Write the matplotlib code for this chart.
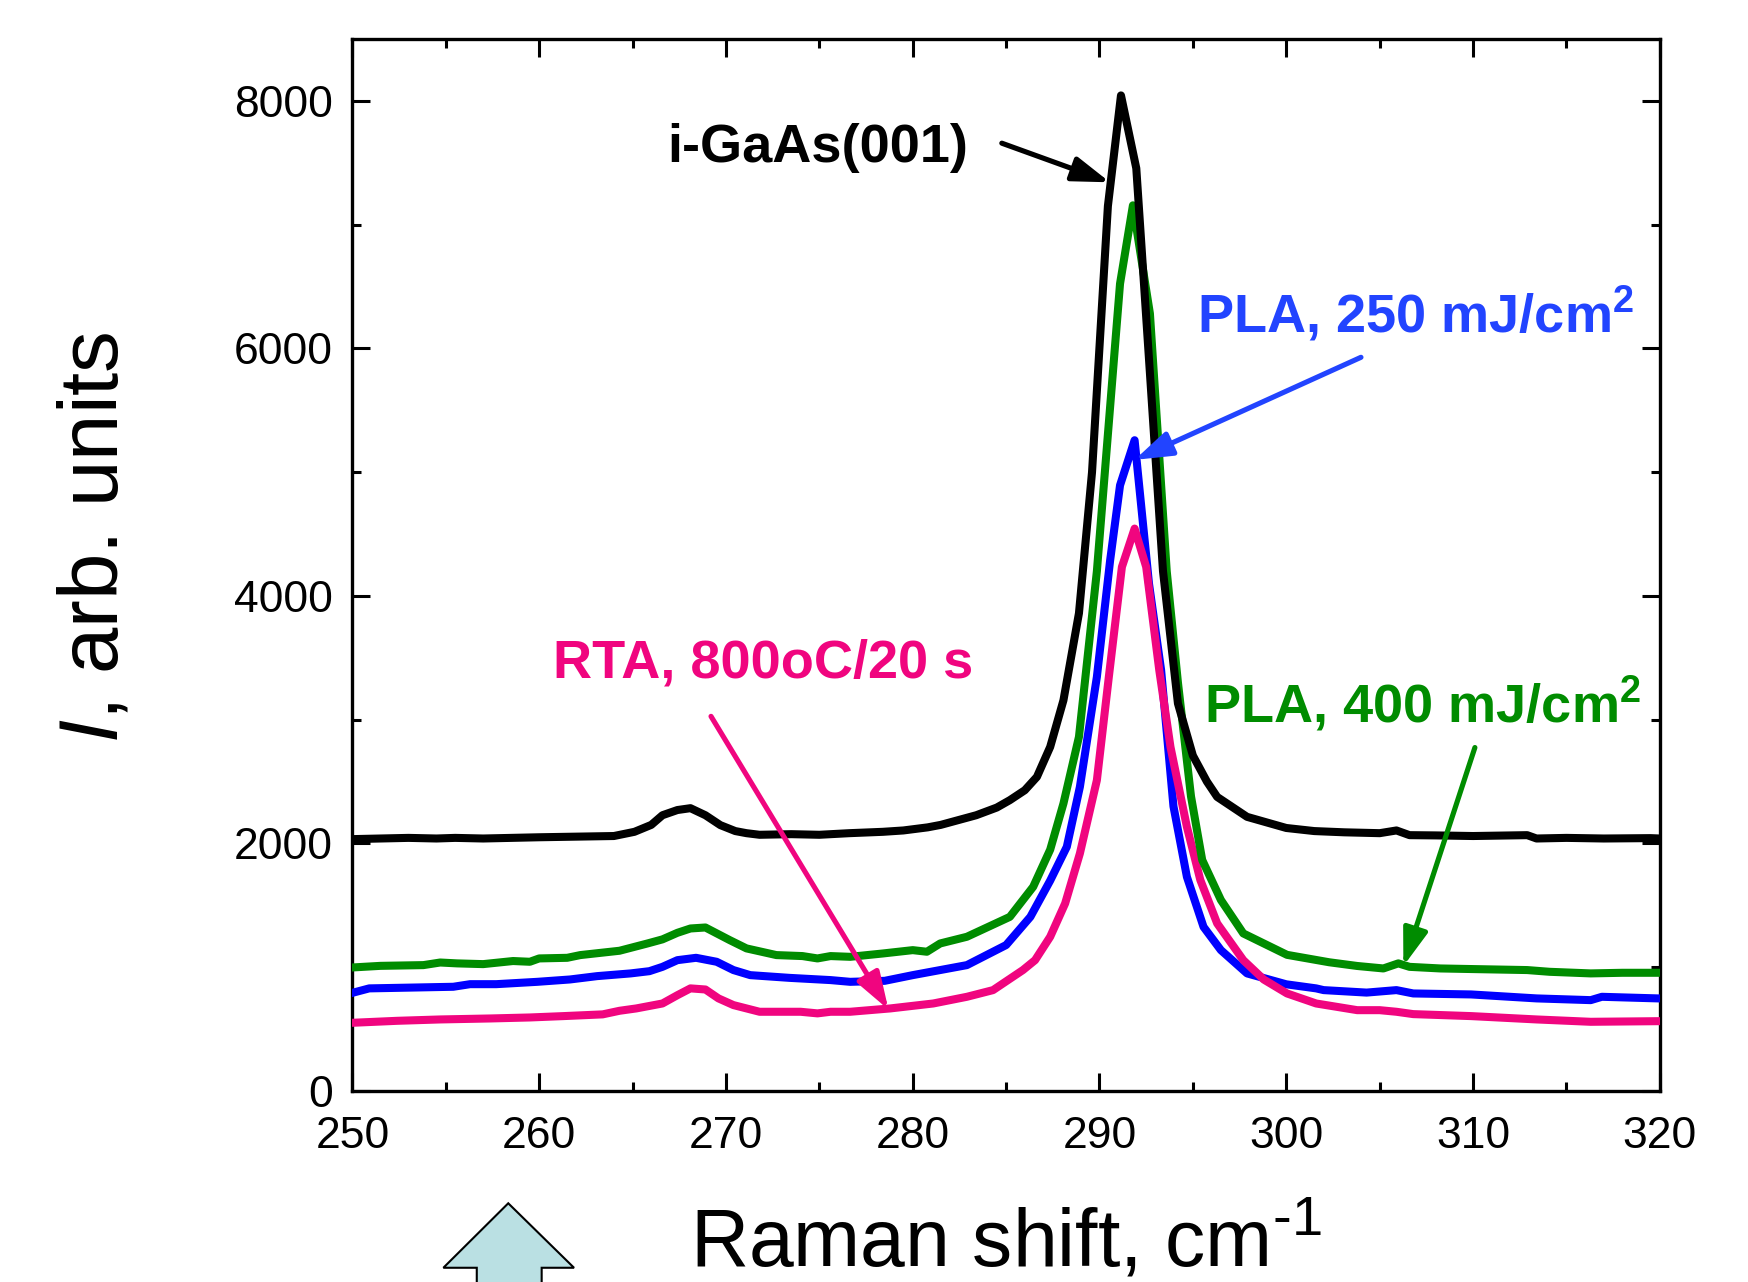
import numpy as np
import matplotlib
matplotlib.use("Agg")
import matplotlib.pyplot as plt
from matplotlib.patches import Polygon
from matplotlib.ticker import MultipleLocator

plt.rcParams['font.family'] = ['Liberation Sans', 'DejaVu Sans']
plt.rcParams['mathtext.fontset'] = 'custom'
plt.rcParams['mathtext.rm'] = 'Liberation Sans'
plt.rcParams['mathtext.it'] = 'Liberation Sans:italic'
plt.rcParams['mathtext.bf'] = 'Liberation Sans:bold'

# --- data (Raman shift in cm-1, intensity in arb. units) ---
x_gaas = [250.0, 251.5, 253.0, 254.5, 255.5, 257.0, 258.5, 260.0, 262.0, 264.0,
          265.1, 266.0, 266.6, 267.4, 268.1, 268.9, 269.7, 270.5, 271.1, 271.8,
          273.5, 275.0, 276.6, 278.4, 279.5, 280.8, 281.5, 283.4, 284.5, 285.2,
          286.0, 286.65, 287.36, 288.07, 288.9, 289.6, 290.45, 291.15, 291.97, 292.7,
          293.4, 294.2, 295.0, 295.75, 296.3, 297.9, 300.0, 301.5, 303.1, 305.0,
          305.9, 306.6, 308.0, 310.0, 312.9, 313.4, 315.0, 317.0, 319.5, 320.0]
y_gaas = [2035, 2040, 2045, 2040, 2045, 2040, 2045, 2050, 2055, 2060,
          2094, 2150, 2228, 2270, 2285, 2228, 2148, 2100, 2083, 2070,
          2075, 2070, 2083, 2094, 2105, 2130, 2150, 2228, 2290, 2350,
          2430, 2538, 2780, 3157, 3860, 5000, 7150, 8044, 7455, 5800,
          4200, 3131, 2710, 2500, 2376, 2215, 2125, 2100, 2090, 2083,
          2105, 2067, 2065, 2060, 2067, 2040, 2045, 2040, 2043, 2040]

x_pla400 = [250.0, 251.5, 253.8, 254.7, 255.6, 257.0, 258.6, 259.5, 260.0, 261.5,
            262.2, 264.3, 265.8, 266.6, 267.4, 268.1, 268.9, 270.2, 271.1, 272.7,
            274.1, 274.9, 275.6, 276.65, 278.4, 280.0, 280.76, 281.47, 282.9, 285.2,
            286.45, 287.36, 288.07, 288.9, 289.86, 291.1, 291.79, 292.7, 293.6, 294.2,
            294.9, 295.5, 296.5, 297.7, 300.04, 302.3, 303.8, 305.2, 306.0, 306.6,
            308.25, 310.0, 312.9, 314.1, 316.3, 318.0, 320.0]
y_pla400 = [998, 1011, 1017, 1038, 1031, 1025, 1050, 1044, 1071, 1076,
            1098, 1133, 1192, 1225, 1278, 1313, 1321, 1219, 1152, 1098,
            1090, 1071, 1090, 1084, 1111, 1138, 1125, 1192, 1246, 1407,
            1650, 1950, 2323, 2861, 4200, 6523, 7156, 6281, 4200, 3300,
            2380, 1866, 1543, 1273, 1100, 1040, 1010, 990, 1031, 1003,
            990, 985, 977, 963, 950, 955, 955]

x_pla250 = [250.0, 250.9, 253.0, 255.4, 256.3, 257.7, 259.9, 261.65, 263.1, 264.9,
            265.9, 266.6, 267.4, 268.4, 269.5, 270.4, 271.3, 273.4, 275.6, 276.65,
            278.5, 280.0, 282.9, 285.0, 286.3, 287.36, 288.25, 288.95, 289.86, 290.57,
            291.1, 291.88, 292.65, 293.3, 293.96, 294.68, 295.57, 296.5, 297.9, 300.0,
            301.6, 302.0, 304.3, 305.9, 306.8, 309.9, 313.4, 316.3, 316.9, 319.9, 320.0]
y_pla250 = [793, 829, 835, 842, 863, 863, 882, 901, 928, 950,
            968, 1003, 1057, 1076, 1044, 977, 936, 914, 896, 882,
            890, 936, 1017, 1179, 1407, 1700, 1973, 2457, 3346, 4288,
            4894, 5258, 4100, 3400, 2300, 1730, 1326, 1138, 950, 862,
            829, 815, 795, 815, 788, 780, 748, 734, 761, 748, 748]

x_rta = [250.0, 252.4, 254.7, 257.4, 259.5, 261.3, 263.4, 264.3, 265.2, 266.6,
         267.4, 268.1, 268.9, 269.6, 270.4, 271.8, 274.0, 274.9, 275.6, 276.65,
         278.8, 281.1, 282.9, 284.3, 285.9, 286.55, 287.36, 288.16, 288.95, 289.86,
         290.5, 291.2, 291.88, 292.5, 293.2, 293.8, 294.68, 295.4, 296.3, 297.7,
         298.8, 300.04, 301.6, 303.8, 305.0, 305.9, 306.8, 309.9, 313.4, 316.3, 319.9, 320.0]
y_rta = [551, 567, 578, 586, 594, 605, 619, 648, 667, 707,
         774, 829, 820, 748, 694, 640, 640, 627, 640, 640,
         667, 707, 761, 815, 977, 1057, 1246, 1515, 1919, 2511,
         3346, 4234, 4544, 4234, 3400, 2780, 2134, 1704, 1354, 1057,
         900, 788, 707, 653, 653, 640, 621, 605, 578, 559, 564, 564]

black = 'black'
green = '#008C00'
blue = '#0000FF'
blue_txt = '#2244FF'
pink = '#F0057F'

fig = plt.figure(figsize=(17.49, 12.82), dpi=100)
ax = fig.add_axes([0.2015, 0.149, 0.7475, 0.8206])

lw = 5.8
ax.plot(x_gaas, y_gaas, color=black, lw=lw, zorder=5)
ax.plot(x_pla400, y_pla400, color=green, lw=lw, zorder=4)
ax.plot(x_pla250, y_pla250, color=blue, lw=lw, zorder=3)
ax.plot(x_rta, y_rta, color=pink, lw=lw, zorder=3)

ax.set_xlim(250, 320)
ax.set_ylim(0, 8500)
ax.xaxis.set_major_locator(MultipleLocator(10))
ax.xaxis.set_minor_locator(MultipleLocator(5))
ax.yaxis.set_major_locator(MultipleLocator(2000))
ax.yaxis.set_minor_locator(MultipleLocator(1000))
ax.tick_params(which='both', direction='in', top=True, right=True,
               width=2.2, labelsize=32)
ax.tick_params(axis='y', pad=14)
ax.tick_params(axis='x', pad=18)
ax.tick_params(which='major', length=13)
ax.tick_params(which='minor', length=6.5)
for s in ax.spines.values():
    s.set_linewidth(2.4)

ax.set_xlabel(r'Raman shift, cm$^{\text{-1}}$', fontsize=58, labelpad=30)
ax.set_ylabel(r'$\mathit{I}$, arb. units', fontsize=60)
ax.yaxis.set_label_coords(-0.167, 0.526)

fs = 39
arrow_kw = dict(arrowstyle='-|>,head_length=0.75,head_width=0.25',
                mutation_scale=30, lw=3.7, shrinkA=0, shrinkB=0)

ax.text(274.9, 7506, 'i-GaAs(001)', color=black, fontsize=fs, fontweight='bold',
        ha='center', va='baseline')
ax.annotate('', xy=(290.56, 7342), xytext=(284.77, 7658),
            arrowprops=dict(color=black, **arrow_kw), zorder=6)

ax.text(306.9, 6133, r'PLA, 250 mJ/cm$^{\mathbf{2}}$', color=blue_txt, fontsize=fs,
        fontweight='bold', ha='center', va='baseline')
ax.annotate('', xy=(291.88, 5099), xytext=(304.0, 5928),
            arrowprops=dict(color=blue_txt, **arrow_kw), zorder=6)

ax.text(307.3, 2982, r'PLA, 400 mJ/cm$^{\mathbf{2}}$', color=green, fontsize=fs,
        fontweight='bold', ha='center', va='baseline')
ax.annotate('', xy=(306.27, 1009), xytext=(310.1, 2775),
            arrowprops=dict(color=green, **arrow_kw), zorder=6)

ax.text(272.0, 3342, 'RTA, 800oC/20 s', color=pink, fontsize=fs,
        fontweight='bold', ha='center', va='baseline')
ax.annotate('', xy=(278.7, 658), xytext=(269.2, 3027),
            arrowprops=dict(color=pink, **arrow_kw), zorder=6)

# block arrow at the bottom, partly cut off by the figure edge
arrow_pts = [(0.2906, 0.0614), (0.3282, 0.0111), (0.3097, 0.0111), (0.3097, -0.02),
             (0.2726, -0.02), (0.2726, 0.0111), (0.2535, 0.0111)]
fig.patches.append(Polygon(arrow_pts, closed=True, transform=fig.transFigure,
                           facecolor='#BAE0E3', edgecolor='black', lw=1.5))

fig.savefig('out.png', dpi=100)
